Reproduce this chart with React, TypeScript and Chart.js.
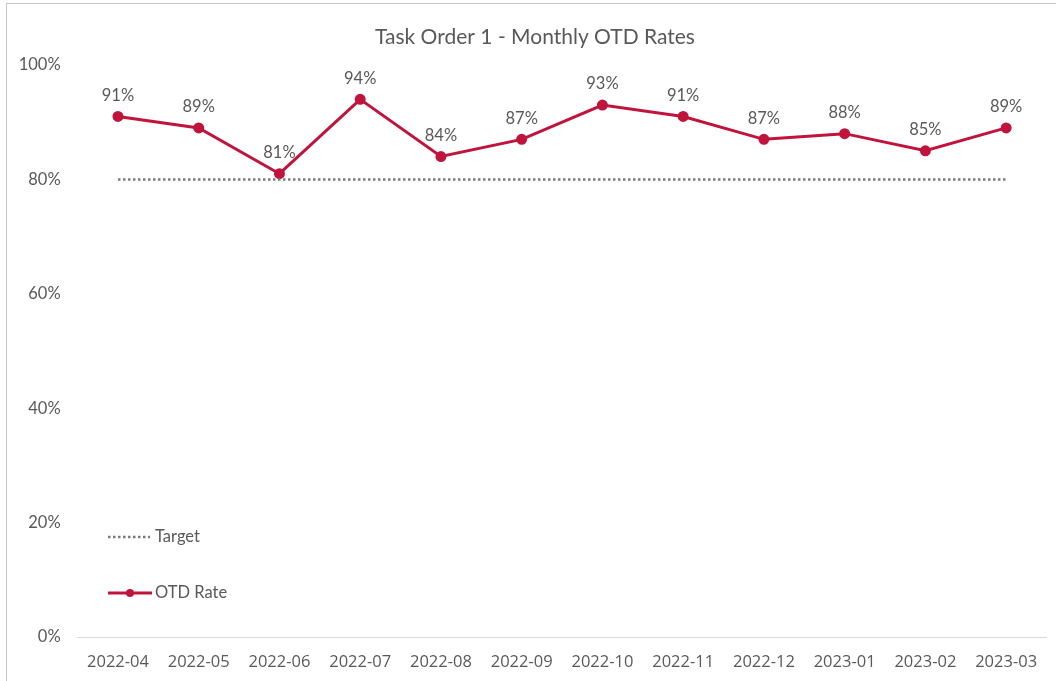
import React, { useEffect, useRef } from "react";
import { Chart, registerables } from "chart.js";

Chart.register(...registerables);

const months = ["2022-04", "2022-05", "2022-06", "2022-07", "2022-08", "2022-09", "2022-10", "2022-11", "2022-12", "2023-01", "2023-02", "2023-03"];
const otdRate = [91, 89, 81, 94, 84, 87, 93, 91, 87, 88, 85, 89];
const target = [80, 80, 80, 80, 80, 80, 80, 80, 80, 80, 80, 80];
const yTicks = [0, 20, 40, 60, 80, 100];
const titleText = "Task Order 1 - Monthly OTD Rates";

const RED = "#C0143C";
const GRAY_TEXT = "#595959";
const DOT = "#7a7a7a";
const FONT = "Lato, 'Open Sans', sans-serif";

const overlayPlugin = {
  id: "overlay",
  afterDatasetsDraw(chart: any) {
    const ctx = chart.ctx;
    ctx.save();
    // title
    ctx.fillStyle = GRAY_TEXT;
    ctx.font = `21px ${FONT}`;
    ctx.textAlign = "center";
    ctx.textBaseline = "middle";
    ctx.fillText(titleText, 528, 33);

    // data labels
    const meta = chart.getDatasetMeta(1);
    ctx.font = `16.5px ${FONT}`;
    ctx.textBaseline = "middle";
    meta.data.forEach((pt: any, i: number) => {
      ctx.fillText(otdRate[i] + "%", pt.x, pt.y - 21);
    });

    // legend
    ctx.textAlign = "left";
    ctx.font = `16.5px ${FONT}`;
    ctx.strokeStyle = DOT;
    ctx.lineWidth = 2.5;
    ctx.setLineDash([2.5, 2.5]);
    ctx.beginPath();
    ctx.moveTo(101, 533);
    ctx.lineTo(143, 533);
    ctx.stroke();
    ctx.setLineDash([]);
    ctx.fillStyle = GRAY_TEXT;
    ctx.fillText("Target", 148, 533);

    ctx.strokeStyle = RED;
    ctx.lineWidth = 3;
    ctx.beginPath();
    ctx.moveTo(101, 589);
    ctx.lineTo(145, 589);
    ctx.stroke();
    ctx.fillStyle = RED;
    ctx.beginPath();
    ctx.arc(123, 589, 4, 0, Math.PI * 2);
    ctx.fill();
    ctx.fillStyle = GRAY_TEXT;
    ctx.fillText("OTD Rate", 148, 589);
    ctx.restore();
  },
};

export default function App() {
  const ref = useRef<HTMLCanvasElement>(null);
  useEffect(() => {
    if (!ref.current) return;
    const chart = new Chart(ref.current, {
      type: "line",
      data: {
        labels: months,
        datasets: [
          {
            label: "Target",
            data: target,
            borderColor: DOT,
            borderWidth: 2.5,
            borderDash: [2.5, 2.5],
            pointRadius: 0,
            fill: false,
          },
          {
            label: "OTD Rate",
            data: otdRate,
            borderColor: RED,
            backgroundColor: RED,
            borderWidth: 3,
            pointRadius: 4,
            pointBackgroundColor: RED,
            pointBorderColor: RED,
            fill: false,
          },
        ],
      },
      options: {
        animation: false,
        responsive: false,
        maintainAspectRatio: false,
        layout: { padding: { top: 61, right: 9.5, left: 0, bottom: 0 } },
        plugins: {
          legend: { display: false },
          title: { display: false },
          tooltip: { enabled: false },
        },
        scales: {
          x: {
            offset: true,
            grid: { display: false, drawTicks: false },
            border: { display: true, color: "#d9d9d9", width: 1 },
            ticks: { color: GRAY_TEXT, font: { family: "'Open Sans', sans-serif", size: 16.5 }, padding: 15, maxRotation: 0, autoSkip: false },
            afterFit(scale: any) {
              scale.height = 44;
            },
          },
          y: {
            min: 0,
            max: 100,
            afterBuildTicks(scale: any) {
              scale.ticks = yTicks.map((v) => ({ value: v }));
            },
            grid: { display: false, drawTicks: false },
            border: { display: false },
            ticks: {
              color: GRAY_TEXT,
              font: { family: FONT, size: 16.5 },
              padding: 17,
              callback: (v: any) => v + "%",
            },
            afterFit(scale: any) {
              scale.width = 70.6;
            },
          },
        },
      },
      plugins: [overlayPlugin],
    });
    return () => chart.destroy();
  }, []);

  return (
    <div style={{ position: "fixed", left: 0, top: 0, width: 1056, height: 681, overflow: "hidden", background: "#fff" }}>
      <div style={{ position: "absolute", left: 6, top: 3, width: 1060, height: 690, borderLeft: "1.5px solid #c4c4c4", borderTop: "1.5px solid #c4c4c4" }} />
      <canvas ref={ref} width={1049} height={677} style={{ position: "absolute", left: 7, top: 4, width: 1049, height: 677 }} />
    </div>
  );
}
